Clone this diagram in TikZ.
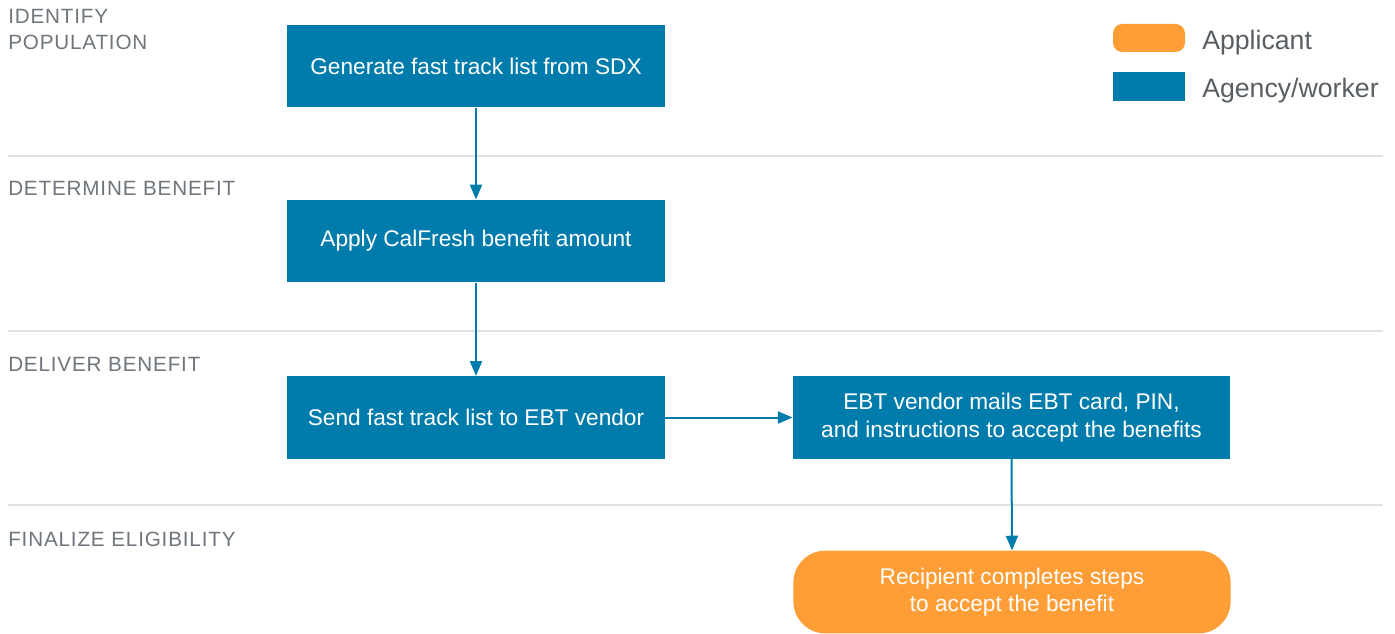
\documentclass[tikz,border=0pt]{standalone}
\usepackage{fontspec}
\setmainfont{Liberation Sans}
\usetikzlibrary{arrows.meta}
\definecolor{agency}{RGB}{0,124,172}
\definecolor{applicant}{RGB}{255,158,54}
\definecolor{lanegray}{RGB}{110,117,124}
\definecolor{laneline}{RGB}{222,226,229}
\tikzset{
  agencybox/.style={fill=agency,text=white,minimum width=283.5pt,minimum height=62pt,
    align=center,font=\fontsize{17}{20.5}\selectfont,inner sep=0pt},
  applicantbox/.style={agencybox,fill=applicant,rounded corners=24pt},
  lanelabel/.style={text=lanegray,anchor=base west,align=left,inner sep=0pt,
    font=\fontsize{15.5}{19.5}\selectfont\addfontfeature{LetterSpace=4}},
  legendlabel/.style={text=lanegray!80!black,anchor=base west,inner sep=0pt,
    font=\fontsize{20}{23}\selectfont},
  flow/.style={agency,line width=1.5pt,-{Triangle[length=11pt,width=9pt]}}
}
\begin{document}
\begin{tikzpicture}[x=0.75pt,y=-0.75pt]
\useasboundingbox (0,0) rectangle (1395,634);
%lanes
\draw[laneline,line width=2.2pt] (8,156) -- (1383,156);
\draw[laneline,line width=2.2pt] (8,331) -- (1383,331);
\draw[laneline,line width=2.2pt] (8,505) -- (1383,505);
\node[lanelabel] (identify) at (8,50) {IDENTIFY\\POPULATION};
\node[lanelabel] (determine) at (8,196) {DETERMINE BENEFIT};
\node[lanelabel] (deliver) at (8,372) {DELIVER BENEFIT};
\node[lanelabel] (finalize) at (8,546) {FINALIZE ELIGIBILITY};
%legend
\node[fill=applicant,rounded corners=7pt,minimum width=54pt,minimum height=21pt,inner sep=0pt] (keyapp) at (1149,38) {};
\node[fill=agency,minimum width=54pt,minimum height=22pt,inner sep=0pt] (keyagency) at (1149,86.5) {};
\node[legendlabel] (keyapptext) at (1202,50) {Applicant};
\node[legendlabel] (keyagencytext) at (1202,97.5) {Agency/worker};
%steps
\node[agencybox] (generate) at (476,66) {Generate fast track list from SDX};
\node[agencybox] (apply) at (476,241) {Apply CalFresh benefit amount};
\node[agencybox] (send) at (476,417.5) {Send fast track list to EBT vendor};
\node[agencybox,minimum width=328pt] (mails) at (1011.5,417.5) {EBT vendor mails EBT card, PIN,\\and instructions to accept the benefits};
\node[applicantbox,minimum width=328pt] (recipient) at (1012,592) {Recipient completes steps\\to accept the benefit};
%arrows
\draw[flow] (generate) -- (apply);
\draw[flow] (apply) -- (send);
\draw[flow] (send) -- (mails);
\draw[flow] (mails.south) -- (recipient.north);
\end{tikzpicture}
\end{document}
